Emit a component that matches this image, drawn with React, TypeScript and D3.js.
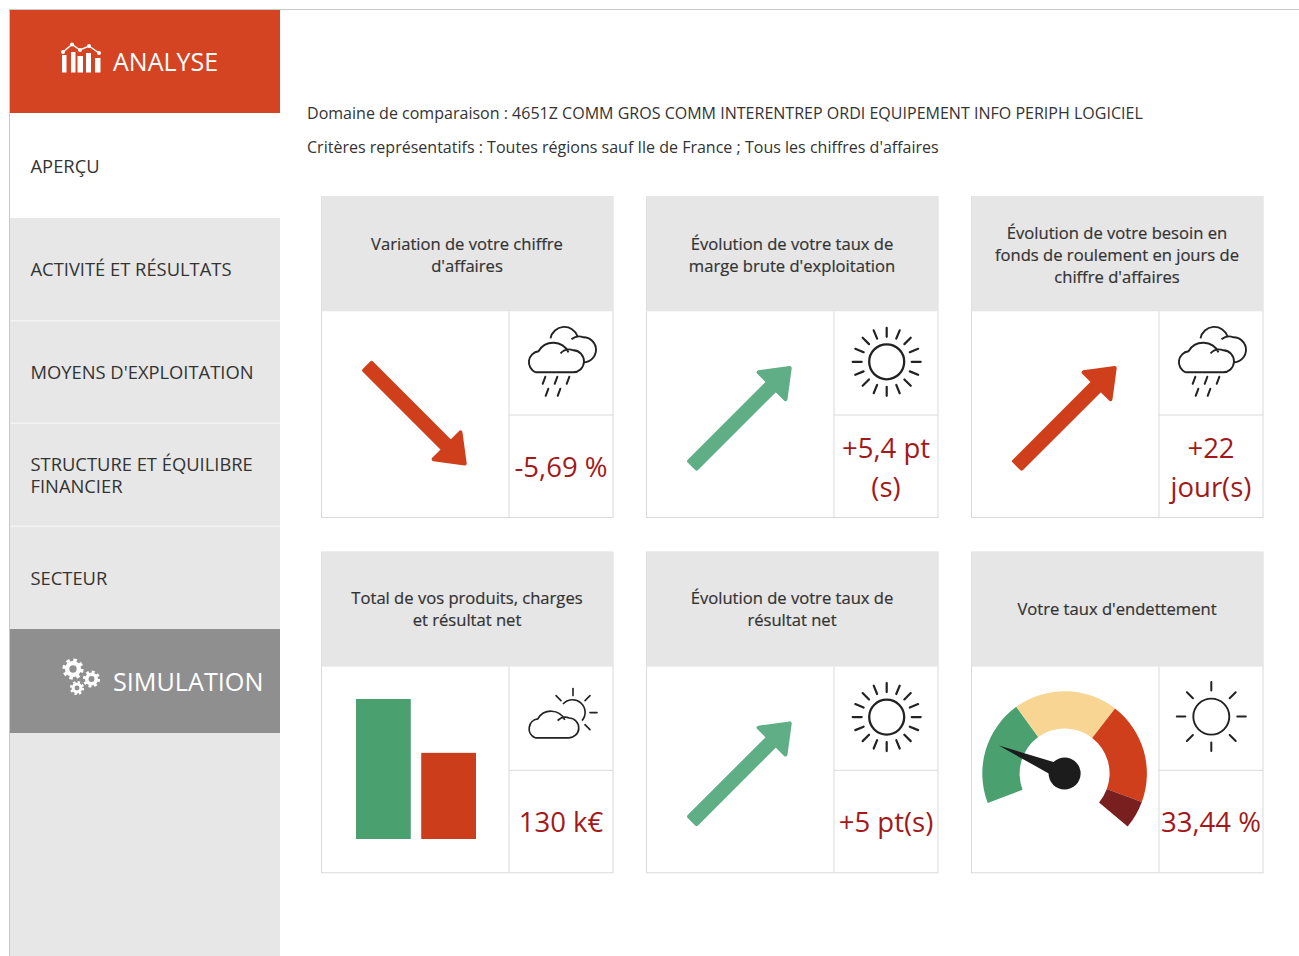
import React from "react";
import * as d3 from "d3";

const menuLabels = [["APERÇU"], ["ACTIVITÉ ET RÉSULTATS"], ["MOYENS D'EXPLOITATION"], ["STRUCTURE ET ÉQUILIBRE", "FINANCIER"], ["SECTEUR"]];
const infoLines = [
  "Domaine de comparaison : 4651Z COMM GROS COMM INTERENTREP ORDI EQUIPEMENT INFO PERIPH LOGICIEL",
  "Critères représentatifs : Toutes régions sauf Ile de France ; Tous les chiffres d'affaires",
];
const cardTitles = [
  ["Variation de votre chiffre", "d'affaires"],
  ["Évolution de votre taux de", "marge brute d'exploitation"],
  ["Évolution de votre besoin en", "fonds de roulement en jours de", "chiffre d'affaires"],
  ["Total de vos produits, charges", "et résultat net"],
  ["Évolution de votre taux de", "résultat net"],
  ["Votre taux d'endettement"],
];
const cardValues = [["-5,69 %"], ["+5,4 pt", "(s)"], ["+22", "jour(s)"], ["130 k€"], ["+5 pt(s)"], ["33,44 %"]];
const cardIcons = ["rain", "sun", "rain", "cloudsun", "sun", "clear"];
const arrowAngles = [45, -45, -45, null, -45, null];
const arrowColors = ["#cf3f1c", "#5fae85", "#cf3f1c", "", "#5fae85", ""];
const barNames = ["produits", "charges"];
const barValues = [130, 80];
const barColors = ["#4aa06e", "#cc3d1b"];
const gaugeThresholds = [0, 57, 113, 168, 183];
const gaugeColors = ["#4aa06e", "#f9d593", "#cf3f1c", "#7a1f1f"];
const gaugeValue = 33.44;

const FONT = "'Open Sans', sans-serif";
const TEXT = "#333333";
const cols = [321, 646, 971];
const rows = [196.5, 551.8];
const CARD_W = 292;
const CARD_H = 321;
const HEAD_H = 114.8;
const SPLIT_X = 188;
const SPLIT_Y = 218.5;
const LINE = "#d9d9d9";

const cloudD = "M9,33 H46 A11,11 0 0 0 47,11 A12,12 0 0 0 34,14 M42,13 A17,17 0 0 0 12,12 A11,11 0 0 0 9,33";

function Rays({ cx, cy, n, r0, r1, sw, from = 0, to = 360 }: any) {
  const angle = d3.scaleLinear().domain([0, n]).range([from, to]);
  return (
    <g stroke="#222" strokeWidth={sw} strokeLinecap="round">
      {d3.range(n).map((i) => {
        const a = (angle(i) * Math.PI) / 180;
        return <line key={i} x1={cx + r0 * Math.sin(a)} y1={cy - r0 * Math.cos(a)} x2={cx + r1 * Math.sin(a)} y2={cy - r1 * Math.cos(a)} />;
      })}
    </g>
  );
}

function Icon({ kind, x, y }: any) {
  if (kind === "sun")
    return (
      <g>
        <circle cx={x + 52.7} cy={y + 50.5} r={17.5} fill="none" stroke="#222" strokeWidth={2.3} />
        <Rays cx={x + 52.7} cy={y + 50.5} n={16} r0={25} r1={34} sw={2.2} />
      </g>
    );
  if (kind === "clear")
    return (
      <g>
        <circle cx={x + 52.3} cy={y + 50} r={18} fill="none" stroke="#222" strokeWidth={1.9} />
        <Rays cx={x + 52.3} cy={y + 50} n={8} r0={26} r1={34.5} sw={2} />
      </g>
    );
  if (kind === "rain") {
    const drops = [[35, 69], [47, 69], [59, 69], [38, 81], [50, 81]];
    return (
      <g transform={`translate(${x},${y})`} fill="none" stroke="#222">
        <path transform="translate(17.5,28)" d={cloudD} strokeWidth={1.9} />
        <path transform="translate(17.5,28)" d="M24,-1 A14,14 0 0 1 51,-3 M45,0 A12,12 0 0 1 57,-2 A12.5,12.5 0 0 1 57,23" strokeWidth={1.9} />
        {drops.map(([dx, dy], i) => (
          <line key={i} x1={dx + 1.3} y1={dy - 3.5} x2={dx - 1.3} y2={dy + 3.5} strokeWidth={2} strokeLinecap="round" />
        ))}
      </g>
    );
  }
  return (
    <g>
      <path d={`M${x + 54} ${y + 37.5} A12,12 0 1 1 ${x + 73} ${y + 54}`} fill="none" stroke="#222" strokeWidth={1.6} />
      <Rays cx={x + 64} cy={y + 46} n={5} r0={17} r1={24} sw={1.6} from={-45} to={180} />
      <path transform={`translate(${x + 18},${y + 41.5}) scale(0.9)`} d={cloudD} fill="#fff" stroke="#222" strokeWidth={1.9} />
    </g>
  );
}

function Arrow({ angle, color, cx, cy }: any) {
  const L = 141;
  const pts = [[-L / 2 + 1, -5.3], [L / 2 - 28, -5.3], [L / 2 - 28, -19], [L / 2 - 3, 0], [L / 2 - 28, 19], [L / 2 - 28, 5.3], [-L / 2 + 1, 5.3]];
  const line = d3.line()(pts as [number, number][]) + "Z";
  return <path d={line} transform={`translate(${cx},${cy}) rotate(${angle})`} fill={color} stroke={color} strokeWidth={4} strokeLinejoin="round" />;
}

function Bars({ x, y }: any) {
  const xs = d3.scaleBand().domain(barNames).range([x + 35, x + 155]).paddingInner(0.16).paddingOuter(0);
  const ys = d3.scaleLinear().domain([0, barValues[0]]).range([y + 172.4, y + 32.4]);
  const bottom = ys(0);
  return (
    <g>
      {barNames.map((n, i) => (
        <rect key={n} x={xs(n)} y={ys(barValues[i])} width={xs.bandwidth()} height={bottom - ys(barValues[i])} fill={barColors[i]} />
      ))}
    </g>
  );
}

function Gauge({ cx, cy }: any) {
  const scale = d3.scaleLinear().domain([0, 183]).range([-111, 130]);
  const arc = d3.arc<any>().innerRadius(45).outerRadius(82.3);
  const needleAngle = scale(gaugeValue);
  return (
    <g transform={`translate(${cx},${cy})`}>
      {gaugeColors.map((c, i) => (
        <path
          key={c}
          fill={c}
          d={arc({ startAngle: (scale(gaugeThresholds[i]) * Math.PI) / 180, endAngle: (scale(gaugeThresholds[i + 1]) * Math.PI) / 180 }) as string}
        />
      ))}
      <g transform={`rotate(${needleAngle})`} fill="#1c1c1c">
        <path d="M0,-71.5 L-6.5,-12 L6.5,-12 Z" />
        <circle r={16} />
      </g>
    </g>
  );
}

function Gear({ cx, cy, r }: any) {
  const teeth = 8;
  const circ = 2 * Math.PI * (r * 0.85);
  return (
    <g fill="none" stroke="#fff">
      <circle cx={cx} cy={cy} r={r * 0.85} strokeWidth={r * 0.32} strokeDasharray={`${circ / teeth / 2} ${circ / teeth / 2}`} />
      <circle cx={cx} cy={cy} r={r * 0.56} strokeWidth={r * 0.42} />
    </g>
  );
}

export default function App() {
  const trendLine = [[63, 52], [72, 44.5], [80, 50], [89, 46], [99, 53]];
  const trendBars = [[62, 4.5, 55], [71, 4.5, 52], [77.5, 5.5, 56], [86, 5, 53], [95, 5.5, 58]];
  const menuY = [173, 276, 379, 471, 585];
  return (
    <svg width={1299} height={956} style={{ position: "absolute", left: 0, top: 0, display: "block" }} fontFamily={FONT}>
      <rect width={1299} height={956} fill="#fff" />
      <rect x={9} y={9} width={1290} height={1} fill="#c8c8c8" />
      <rect x={9} y={9} width={1} height={947} fill="#c8c8c8" />
      <rect x={10} y={218} width={270} height={738} fill="#e7e7e7" />
      <rect x={10} y={10} width={270} height={103} fill="#d44322" />
      <rect x={10} y={320} width={270} height={1.5} fill="#f3f3f3" />
      <rect x={10} y={422.5} width={270} height={1.5} fill="#f3f3f3" />
      <rect x={10} y={525.5} width={270} height={1.5} fill="#f3f3f3" />
      <rect x={10} y={629} width={270} height={104} fill="#8f8f8f" />

      <g>
        {trendBars.map(([x, w, y], i) => (
          <rect key={i} x={x} y={y} width={w} height={72.5 - y} fill="#fff" />
        ))}
        <path d={d3.line()(trendLine as [number, number][]) as string} fill="none" stroke="#fff" strokeWidth={1.5} />
        {trendLine.map(([x, y], i) => (
          <circle key={i} cx={x} cy={y} r={2} fill="#fff" />
        ))}
      </g>
      <text x={113} y={71} fontSize={25} fill="#fff">ANALYSE</text>

      <Gear cx={73} cy={669} r={10.5} />
      <Gear cx={91.5} cy={679} r={8.5} />
      <Gear cx={77} cy={688} r={7} />
      <text x={113} y={691} fontSize={25.2} fill="#fff">SIMULATION</text>

      {menuLabels.map((lines, i) =>
        lines.map((l, j) => (
          <text key={l} x={30.5} y={menuY[i] + j * 22} fontSize={18.35} fill={TEXT}>{l}</text>
        ))
      )}

      {infoLines.map((l, i) => (
        <text key={l} x={307} y={119 + i * 34} fontSize={16.04} fill={TEXT}>{l}</text>
      ))}

      {cardTitles.map((lines, i) => {
        const x = cols[i % 3];
        const rowIdx = Math.floor(i / 3);
        const y = rows[rowIdx];
        const midY = y + (rowIdx === 0 ? 59.3 : 58.5);
        const startY = midY - ((lines.length - 1) * 22.3) / 2 + 5;
        return (
          <g key={i}>
            <rect x={x + 0.5} y={y + 0.3} width={CARD_W - 0.5} height={CARD_H - 0.3} fill="#fff" stroke={LINE} />
            <rect x={x + 0.5} y={y} width={CARD_W - 0.5} height={HEAD_H} fill="#e6e6e6" />
            <line x1={x + SPLIT_X} x2={x + SPLIT_X} y1={y + HEAD_H} y2={y + CARD_H} stroke={LINE} />
            <line x1={x + SPLIT_X} x2={x + CARD_W} y1={y + SPLIT_Y} y2={y + SPLIT_Y} stroke={LINE} />
            {lines.map((l, j) => (
              <text key={l} x={x + 146} y={startY + j * 22.3} fontSize={16.6} textAnchor="middle" fill={TEXT} stroke={TEXT} strokeWidth={0.2}>{l}</text>
            ))}
            <Icon kind={cardIcons[i]} x={x + SPLIT_X} y={y + HEAD_H} />
            {cardValues[i].map((v, j) => {
              const vy = cardValues[i].length === 1 ? y + 280 : y + 261.5 + j * 39;
              return (
                <text key={v} x={x + 240} y={vy} fontSize={27.5} textAnchor="middle" fill="#a2191b">{v}</text>
              );
            })}
            {arrowAngles[i] !== null && <Arrow angle={arrowAngles[i]} color={arrowColors[i]} cx={x + 96} cy={y + 219.3} />}
            {i === 3 && <Bars x={x} y={y + HEAD_H} />}
            {i === 5 && <Gauge cx={x + 93.6} cy={y + 221.7} />}
          </g>
        );
      })}
    </svg>
  );
}
